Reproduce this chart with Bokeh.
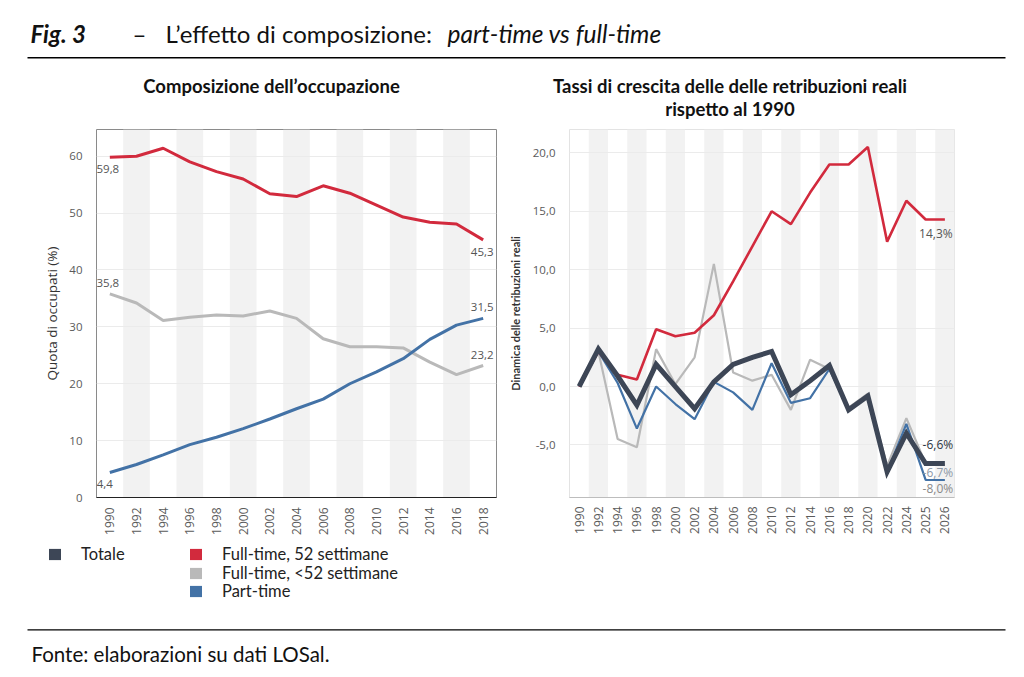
import numpy as np
from bokeh.plotting import figure
from bokeh.models import (FactorRange, Range1d, CustomJSTickFormatter, Label,
                          BoxAnnotation, Legend, LegendItem, ColumnDataSource)
from bokeh.layouts import column, row
from bokeh.core.properties import value
from bokeh.embed import file_html
from bokeh.resources import INLINE

# ---------------- data ----------------
years_left = ["1990", "1992", "1994", "1996", "1998", "2000", "2002", "2004",
              "2006", "2008", "2010", "2012", "2014", "2016", "2018"]
share_ft52 = [59.8, 60.0, 61.4, 59.0, 57.3, 56.0, 53.4, 52.9, 54.8, 53.5, 51.4, 49.3, 48.4, 48.1, 45.3]
share_ftlt52 = [35.8, 34.2, 31.1, 31.7, 32.1, 31.9, 32.8, 31.5, 27.9, 26.5, 26.5, 26.3, 23.8, 21.6, 23.2]
share_pt = [4.4, 5.8, 7.5, 9.3, 10.6, 12.1, 13.8, 15.6, 17.3, 20.0, 22.1, 24.4, 27.8, 30.3, 31.5]

years_right = ["1990", "1992", "1994", "1996", "1998", "2000", "2002", "2004", "2006", "2008",
               "2010", "2012", "2014", "2016", "2018", "2020", "2022", "2024", "2025", "2026"]
growth_ft52 = [0.0, 3.0, 1.0, 0.6, 4.9, 4.3, 4.6, 6.1, 9.0, 12.0,
               15.0, 13.9, 16.6, 19.0, 19.0, 20.5, 12.4, 15.9, 14.3, 14.3]
growth_ftlt52 = [0.0, 3.0, -4.5, -5.2, 3.2, 0.2, 2.5, 10.5, 1.2, 0.5,
                 1.0, -2.0, 2.3, 1.5, -1.8, -0.6, -6.8, -2.7, -6.6, -6.7]
growth_pt = [0.0, 3.0, 0.3, -3.6, 0.0, -1.5, -2.8, 0.4, -0.5, -2.0,
             2.0, -1.4, -1.0, 1.5, -2.0, -0.8, -7.3, -3.2, -8.0, -8.0]
growth_tot = [0.0, 3.2, 0.9, -1.6, 1.9, 0.0, -1.9, 0.4, 1.9, 2.5,
              3.0, -0.7, 0.5, 1.8, -2.0, -0.8, -7.3, -4.0, -6.6, -6.6]

left_yticks = [0, 10, 20, 30, 40, 50, 60]
right_yticks = [-5, 0, 5, 10, 15, 20]

series_names = ["Totale", "Full-time, 52 settimane", "Full-time, <52 settimane", "Part-time"]

# ---------------- styles ----------------
C_TOT = "#3d4656"
C_RED = "#d22a3d"
C_GRAY = "#b9b9b9"
C_BLUE = "#4372a6"
BAND = "#f2f2f2"
TICK_FONT = "Open Sans"
TEXT_FONT = "Lato"


def fmt(v, pct=False):
    s = f"{v:.1f}".replace(".", ",")
    return s + "%" if pct else s


def chart(xf, yr, yticks, w, bl, br, outline, axis_col, code):
    p = figure(width=w, height=420, x_range=FactorRange(factors=xf), y_range=Range1d(*yr),
               output_backend="svg", toolbar_location=None,
               min_border_left=bl, min_border_right=br, min_border_top=8, min_border_bottom=44)
    p.vbar(x=xf[1::2], width=1, bottom=yr[0], top=yr[1], fill_color=BAND,
           line_color=None, level="image")
    p.outline_line_color = outline
    p.xgrid.visible = False
    p.yaxis.ticker = yticks
    p.ygrid.ticker = p.yaxis[0].ticker
    p.ygrid.grid_line_color = "#ebebeb"
    p.yaxis.formatter = CustomJSTickFormatter(code=code)
    for ax in (p.xaxis, p.yaxis):
        ax.major_tick_line_color = None
        ax.minor_tick_line_color = None
        ax.major_label_text_font = TICK_FONT
        ax.major_label_text_color = "#5a5a5a"
    p.xaxis.axis_line_color = axis_col
    p.yaxis.axis_line_color = None
    p.xaxis.major_label_orientation = np.pi / 2
    p.xaxis.major_label_text_font_size = "12px"
    p.yaxis.major_label_text_font_size = "11.5px"
    p.xaxis.major_label_standoff = 4
    p.yaxis.major_label_standoff = 8
    p.yaxis.axis_label_text_font = TEXT_FONT
    p.yaxis.axis_label_text_color = "#333333"
    return p


def add_label(p, x, y, text, dx, dy, color="#555555", size="11.5px", style="normal"):
    p.text(x=[x], y=[y], text=[text], x_offset=dx, y_offset=dy, text_align="center",
           text_baseline="middle", text_font=value(TICK_FONT), text_font_size=size,
           text_color=color, text_font_style=style)


# ---------------- left chart ----------------
left = chart(years_left, (0, 64.7), left_yticks, 505, 96, 9, "#8a8a8a", "#222222",
             "return tick.toFixed(0);")
left.yaxis.axis_label = "Quota di occupati (%)"
left.yaxis.axis_label_text_font = TICK_FONT
left.yaxis.axis_label_text_font_style = "normal"
left.yaxis.axis_label_text_font_size = "13.5px"
left.yaxis.axis_label_standoff = 5

left.line(years_left, share_ft52, line_color=C_RED, line_width=3)
left.line(years_left, share_ftlt52, line_color=C_GRAY, line_width=3)
left.line(years_left, share_pt, line_color=C_BLUE, line_width=3)

add_label(left, years_left[0], share_ft52[0], fmt(share_ft52[0]), -2, 12)
add_label(left, years_left[-1], share_ft52[-1], fmt(share_ft52[-1]), -1, 12)
add_label(left, years_left[0], share_ftlt52[0], fmt(share_ftlt52[0]), -2, -11)
add_label(left, years_left[-1], share_ftlt52[-1], fmt(share_ftlt52[-1]), -1, -11)
add_label(left, years_left[0], share_pt[0], fmt(share_pt[0]), -5, 12)
add_label(left, years_left[-1], share_pt[-1], fmt(share_pt[-1]), -1, -11)

# ---------------- right chart ----------------
right = chart(years_right, (-9.5, 22.0), right_yticks, 511, 64, 62, "#e3e3e3", "#bdbdbd",
              "return tick.toFixed(1).replace('.', ',');")
right.yaxis.axis_label = "Dinamica delle retribuzioni reali"
right.yaxis.axis_label_text_font_style = "bold"
right.yaxis.axis_label_text_font_size = "11px"
right.yaxis.axis_label_standoff = 8
right.xaxis.major_label_standoff = 3

right.line(years_right, growth_ftlt52, line_color=C_GRAY, line_width=2.2)
right.line(years_right, growth_pt, line_color=C_BLUE, line_width=2.2)
right.line(years_right, growth_ft52, line_color=C_RED, line_width=2.6)
right.line(years_right, growth_tot, line_color=C_TOT, line_width=5, line_join="miter")

add_label(right, years_right[-1], growth_ft52[-1], fmt(growth_ft52[-1], True), -9, 14, size="12px")
add_label(right, years_right[-1], growth_tot[-1], fmt(growth_tot[-1], True), -7, -19,
          color="#2f3642", size="12px")
add_label(right, years_right[-1], growth_ftlt52[-1], fmt(growth_ftlt52[-1], True), -7, 8,
          color="#8d98a6", size="12px")
add_label(right, years_right[-1], growth_pt[-1], fmt(growth_pt[-1], True), -7, 9,
          color="#8a8a8a", size="12px")


# ---------------- header & footer canvases ----------------
W = 1016


def canvas(h):
    c = figure(width=W, height=h, x_range=Range1d(0, W), y_range=Range1d(0, h),
               output_backend="svg", toolbar_location=None, min_border=0)
    c.axis.visible = False
    c.grid.visible = False
    c.outline_line_color = None
    return c


def hlabel(c, h, top, px, py, text, size, style="normal", align="left"):
    c.add_layout(Label(x=px, y=h - (py - top), text=text, text_font=TEXT_FONT,
                       text_font_size=size, text_font_style=style, text_align=align,
                       text_baseline="middle", text_color="#111111"))


HH = 121
header = canvas(HH)
hlabel(header, HH, 0, 30, 33, "Fig. 3", "24px", "bold italic")
hlabel(header, HH, 0, 132, 33, "–", "24px")
hlabel(header, HH, 0, 165, 33, "L’effetto di composizione: ", "24px")
hlabel(header, HH, 0, 447, 33, "part-time vs full-time", "24.5px", "italic")
header.add_layout(BoxAnnotation(left=27, right=1005, bottom=HH - 58, top=HH - 56.5,
                                fill_color="black", fill_alpha=1, line_alpha=0))
hlabel(header, HH, 0, 271, 85, "Composizione dell’occupazione", "18.5px", "bold", "center")
hlabel(header, HH, 0, 729.5, 85, "Tassi di crescita delle delle retribuzioni reali", "18.5px", "bold", "center")
hlabel(header, HH, 0, 729.5, 108, "rispetto al 1990", "18.5px", "bold", "center")

BH = 136
BT = 541
bottom = canvas(BH)
nan_src = ColumnDataSource(dict(left=[np.nan], right=[np.nan], top=[np.nan], bottom=[np.nan]))
colors = [C_TOT, C_RED, C_GRAY, C_BLUE]
rends = [bottom.quad(left="left", right="right", top="top", bottom="bottom", source=nan_src,
                     fill_color=c, line_color=None) for c in colors]

GLYPH_H = 14
legend_pos = [(47, 557), (188, 557), (188, 575.5), (188, 594)]  # glyph-box left, row centre (page px)
for i, (lx, cy) in enumerate(legend_pos):
    lg = Legend(items=[LegendItem(label=series_names[i], renderers=[rends[i]])],
                location=(lx, BH - (cy - BT) - GLYPH_H / 2),
                orientation="vertical", padding=0, margin=0, spacing=0,
                glyph_width=15, glyph_height=GLYPH_H, label_standoff=19,
                label_height=GLYPH_H, label_text_font=TEXT_FONT, label_text_font_size="16.5px",
                label_text_color="#222222", border_line_color=None, background_fill_alpha=0)
    bottom.add_layout(lg)

bottom.add_layout(BoxAnnotation(left=27, right=1005, bottom=BH - (630 - BT), top=BH - (628.7 - BT),
                                fill_color="black", fill_alpha=1, line_alpha=0))
hlabel(bottom, BH, BT, 31, 653, "Fonte: elaborazioni su dati LOSal.", "20.5px")

layout = column(header, row(left, right), bottom)
open("out.html", "w").write(file_html(layout, INLINE))
